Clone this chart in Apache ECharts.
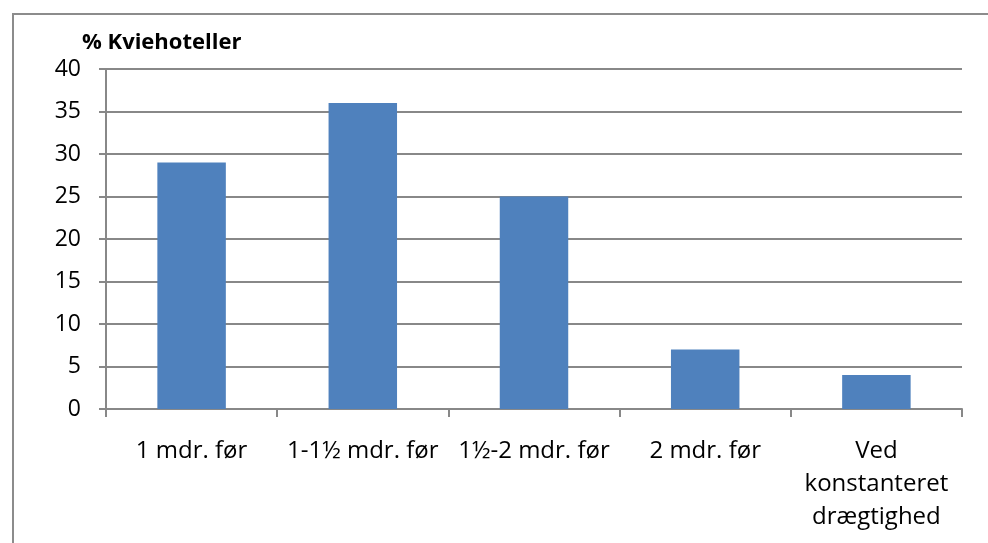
<!DOCTYPE html>
<html>
<head>
<meta charset="utf-8">
<script src="https://cdn.jsdelivr.net/npm/echarts@6/dist/echarts.min.js"></script>
<style>
  html, body { margin: 0; padding: 0; background: #fff; }
  #frame { position: absolute; left: 12px; top: 13px; width: 990px; height: 560px; border: 2px solid #8c8c8c; box-sizing: border-box; }
  #chart { position: absolute; left: 0; top: 0; width: 988px; height: 543px; }
</style>
</head>
<body>
<div id="frame"></div>
<div id="chart"></div>
<script>
// Timing of moving heifers to the heifer hotel
const categories = ['1 mdr. før', '1-1½ mdr. før', '1½-2 mdr. før', '2 mdr. før', 'Ved\nkonstanteret\ndrægtighed'];
const shares = [29, 36, 25, 7, 4];
const yTicks = [0, 5, 10, 15, 20, 25, 30, 35, 40];

const font = '"Open Sans", "Liberation Sans", sans-serif';
const chart = echarts.init(document.getElementById('chart'), null, { renderer: 'canvas' });
chart.setOption({
  animation: false,
  backgroundColor: 'transparent',
  title: {
    text: '% Kviehoteller',
    left: 77, top: 27,
    textStyle: { fontFamily: font, fontSize: 22, fontWeight: 'bold', color: '#000' }
  },
  grid: { left: 106, right: 26, top: 69, bottom: 134, containLabel: false },
  xAxis: {
    type: 'category',
    data: categories,
    axisLine: { lineStyle: { color: '#888', width: 2 } },
    axisTick: { show: true, alignWithLabel: false, length: 8, lineStyle: { color: '#888', width: 2 } },
    axisLabel: { fontFamily: font, fontSize: 24, color: '#000', margin: 26, lineHeight: 33, interval: 0 }
  },
  yAxis: {
    type: 'value',
    min: 0, max: 40, interval: 5,
    axisLine: { show: true, lineStyle: { color: '#888', width: 2 } },
    axisTick: { show: true, length: 7, lineStyle: { color: '#888', width: 2 } },
    splitLine: { lineStyle: { color: '#888', width: 2 } },
    axisLabel: {
      fontFamily: font, fontSize: 23, color: '#000', margin: 25,
      formatter: v => yTicks.includes(v) ? String(v) : ''
    }
  },
  series: [{
    type: 'bar',
    data: shares,
    barWidth: '40%',
    itemStyle: { color: '#4f81bd' }
  }]
});
</script>
</body>
</html>
